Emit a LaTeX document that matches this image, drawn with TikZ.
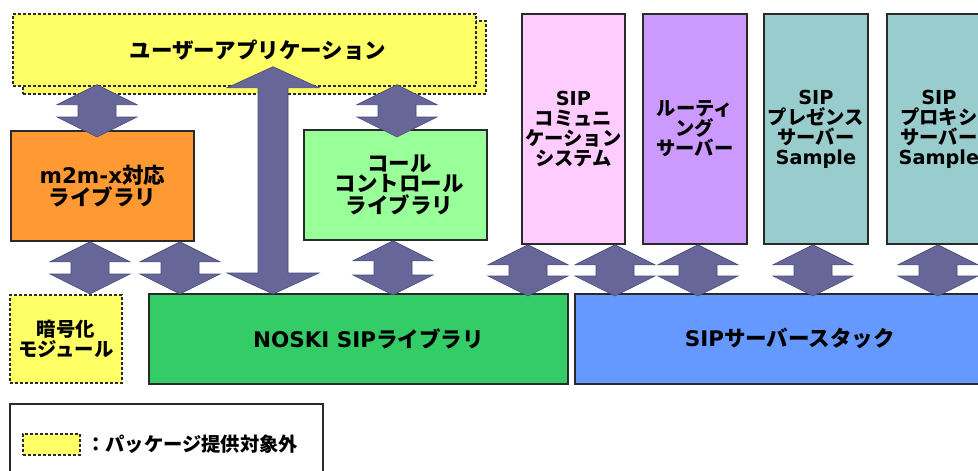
\documentclass[tikz,border=0pt]{standalone}
\usepackage{fontspec}
\setmainfont{DejaVu Sans}
\newfontfamily\jpf{Noto Sans CJK JP}
\newcommand\J[1]{{\jpf #1}}
\usetikzlibrary{calc}
\definecolor{cyel}{HTML}{FFFF66}
\definecolor{corange}{HTML}{FF9933}
\definecolor{clgreen}{HTML}{99FF99}
\definecolor{cpink}{HTML}{FFCCFF}
\definecolor{cpurple}{HTML}{CC99FF}
\definecolor{cteal}{HTML}{99CCCC}
\definecolor{cgreen}{HTML}{33CC66}
\definecolor{cblue}{HTML}{6699FF}
\definecolor{carrow}{HTML}{666699}
\definecolor{carrowline}{HTML}{4A4A7A}
\definecolor{cline}{HTML}{2A2A2A}
\newcommand\blockarr[5]{%
  \filldraw[arrowsty] let \p1=#1, \p2=#2 in
   (\x1,\y1) -- (\x1+#3,\y1-#5) -- (\x1+#4,\y1-#5) -- (\x1+#4,\y2+#5)
   -- (\x1+#3,\y2+#5) -- (\x1,\y2) -- (\x1-#3,\y2+#5) -- (\x1-#4,\y2+#5)
   -- (\x1-#4,\y1-#5) -- (\x1-#3,\y1-#5) -- cycle;}
\begin{document}
\begin{tikzpicture}[x=1pt,y=-1pt,
  box/.style={draw=cline,line width=1.8pt,anchor=north west,inner sep=0pt,
    align=center,font=\bfseries\fontsize{21.5}{20}\selectfont},
  vbox/.style={box,font=\bfseries\fontsize{19.3}{20}\selectfont},
  dbox/.style={box,draw=cline,line width=1.7pt,dash pattern=on 3pt off 2pt,fill=cyel},
  lbl/.style={inner sep=0pt,align=center,font=\bfseries\fontsize{21.5}{20}\selectfont},
  arrowsty/.style={fill=carrow,draw=carrowline,line width=0.6pt,line join=miter}]
\path[use as bounding box,clip] (0,0) rectangle (978,471);
\fill[white] (0,0) rectangle (978,471);
% user application (two stacked dashed boxes)
\node[dbox,minimum width=463pt,minimum height=73pt] (appback) at (22,20) {};
\node[dbox,minimum width=463pt,minimum height=72pt] (app) at (12,13) {};
\node[lbl] (apptext) at (258,50) {\J{ユーザーアプリケーション}};
% libraries
\node[box,fill=corange,minimum width=183pt,minimum height=110pt] (m2m) at (10,130) {m2m-x\J{対応}\\\J{ライブラリ}};
\node[box,fill=clgreen,minimum width=183pt,minimum height=110pt] (call) at (303,129) {\hspace*{8pt}\J{コール}\\\hspace*{8pt}\J{コントロール}\\\hspace*{8pt}\J{ライブラリ}};
% vertical boxes
\node[vbox,fill=cpink,minimum width=103pt,minimum height=230pt] (comm) at (521,13) {SIP\\\J{コミュニ}\\\J{ケーション}\\\J{システム}};
\node[vbox,fill=cpurple,minimum width=104pt,minimum height=230pt] (route) at (642,13) {\J{ルーティ}\\\J{ング}\\\J{サーバー}};
\node[vbox,fill=cteal,minimum width=104pt,minimum height=230pt] (pres) at (763,13) {SIP\\\J{プレゼンス}\\\J{サーバー}\\Sample};
\node[vbox,fill=cteal,minimum width=104pt,minimum height=230pt] (proxy) at (886,13) {SIP\\\J{プロキシ}\\\J{サーバー}\\Sample};
% bottom layer
\node[dbox,minimum width=112pt,minimum height=88pt,font=\bfseries\fontsize{19.4}{19.5}\selectfont] (crypt) at (9,294) {\J{暗号化}\\\J{モジュール}};
\node[box,fill=cgreen,minimum width=419pt,minimum height=90pt] (noski) at (148,293) {\hspace*{20pt}NOSKI SIP\J{ライブラリ}};
\node[box,fill=cblue,minimum width=430pt,minimum height=90pt] (stack) at (574,293) {SIP\J{サーバースタック}};
% legend
\node[box,fill=white,minimum width=313pt,minimum height=80pt] (legend) at (9,403) {};
\node[dbox,minimum width=57pt,minimum height=21pt] (swatch) at (22,433) {};
\node[lbl,anchor=west,font=\bfseries\fontsize{19.3}{19}\selectfont] (legendtext) at (86,444) {\J{：パッケージ提供対象外}};
% arrows
\blockarr{($(97,0 |- app.south)+(0,-2)$)}{($(97,0 |- m2m.north)+(0,7)$)}{40pt}{19pt}{20pt}
\blockarr{($(397,0 |- app.south)+(0,-2)$)}{($(397,0 |- call.north)+(0,8)$)}{40pt}{19pt}{20pt}
\blockarr{(90,0 |- m2m.south)}{(90,0 |- crypt.north)}{40pt}{19pt}{20pt}
\blockarr{(180,0 |- m2m.south)}{($(180,0 |- noski.north)+(0,1)$)}{40pt}{19pt}{20pt}
\blockarr{($(273,0 |- app.south)+(0,-20)$)}{($(273,0 |- noski.north)+(0,1)$)}{46pt}{15pt}{21pt}
\blockarr{(393,0 |- call.south)}{($(393,0 |- noski.north)+(0,2)$)}{40pt}{19pt}{20pt}
\blockarr{(528,0 |- comm.south)}{($(528,0 |- noski.north)+(0,3)$)}{40pt}{19pt}{20pt}
\blockarr{(615,0 |- comm.south)}{($(615,0 |- stack.north)+(0,3)$)}{40pt}{19pt}{20pt}
\blockarr{(698,0 |- route.south)}{($(698,0 |- stack.north)+(0,3)$)}{40pt}{19pt}{20pt}
\blockarr{(813,0 |- pres.south)}{($(813,0 |- stack.north)+(0,3)$)}{40pt}{19pt}{20pt}
\blockarr{(938,0 |- proxy.south)}{($(938,0 |- stack.north)+(0,3)$)}{40pt}{19pt}{20pt}
\end{tikzpicture}
\end{document}
